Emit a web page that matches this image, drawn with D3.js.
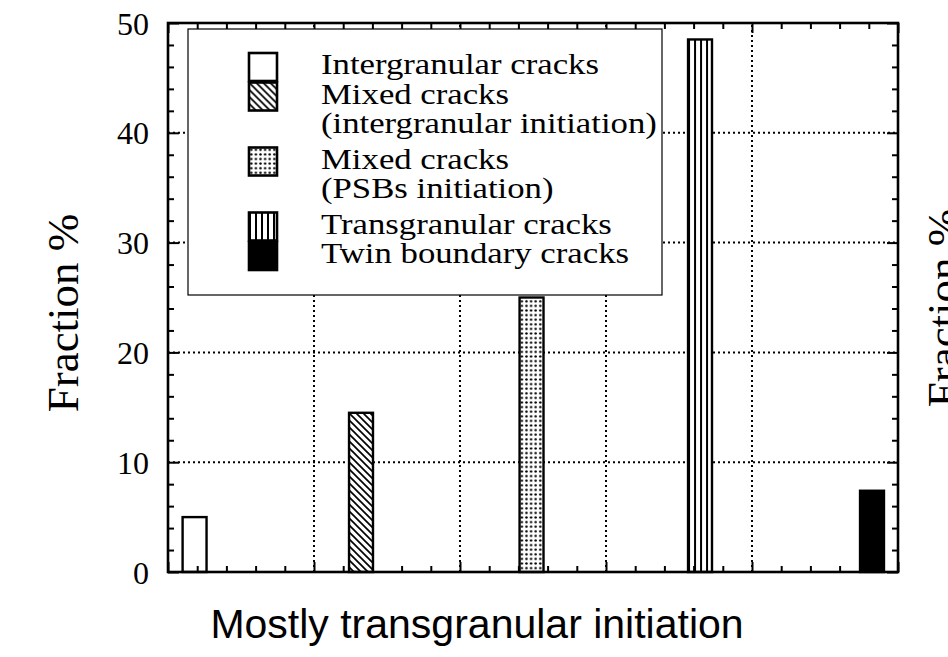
<!DOCTYPE html>
<html>
<head>
<meta charset="utf-8">
<script src="https://cdn.jsdelivr.net/npm/d3@7"></script>
<style>
  body { margin: 0; background: #fff; }
  svg { display: block; }
  .serif { font-family: "Liberation Serif", "Times New Roman", Times, Tinos, "Nimbus Roman", "FreeSerif", "DejaVu Serif", serif; }
  .sans { font-family: "Liberation Sans", Arial, Helvetica, sans-serif; }
</style>
</head>
<body>
<svg id="chart" width="948" height="657"></svg>
<script>
// Crack-type fractions (percent of all cracks)
const categories = [
  "Intergranular cracks",
  "Mixed cracks (intergranular initiation)",
  "Mixed cracks (PSBs initiation)",
  "Transgranular cracks",
  "Twin boundary cracks"
];
const fractions = [5, 14.5, 25, 48.5, 7.4];
const positions = [0.91, 6.61, 12.45, 18.22, 24.11];   // location of each bar on the 0–25 x axis
const legendLines = [
  ["Intergranular cracks"],
  ["Mixed cracks", "(intergranular initiation)"],
  ["Mixed cracks", "(PSBs initiation)"],
  ["Transgranular cracks"],
  ["Twin boundary cracks"]
];
const yTickLabels = [0, 10, 20, 30, 40, 50];
const yTitle = "Fraction %";
const xTitle = "Mostly transgranular initiation";

// Fill style per crack type
const fillKinds = ["blank", "hatch", "dots", "vlines", "solid"];

const svg = d3.select("#chart");
const defs = svg.append("defs");
const plot = { left: 168, right: 898, top: 23, bottom: 572 };
const x = d3.scaleLinear().domain([0, 25]).range([plot.left, plot.right]);
const y = d3.scaleLinear().domain([0, 50]).range([plot.bottom, plot.top]);
const barWidth = 0.82;  // in x-axis units

let patternCount = 0;
function makeFill(kind, x0, y0) {
  if (kind === "blank") return "#fff";
  if (kind === "solid") return "#000";
  const id = "pat" + (patternCount++);
  const p = defs.append("pattern").attr("id", id)
    .attr("patternUnits", "userSpaceOnUse").attr("x", x0).attr("y", y0);
  if (kind === "hatch") {
    const s = 7;
    p.attr("width", s).attr("height", s);
    p.append("rect").attr("width", s).attr("height", s).attr("fill", "#fff");
    p.append("path")
      .attr("d", `M${-s},${-s}L${2 * s},${2 * s}M${-s},0L${s},${2 * s}M0,${-s}L${2 * s},${s}`)
      .attr("stroke", "#000").attr("stroke-width", 1.7);
  } else if (kind === "dots") {
    const s = 4.6;
    p.attr("width", s).attr("height", s);
    p.append("rect").attr("width", s).attr("height", s).attr("fill", "#fff");
    p.append("circle").attr("cx", s / 2).attr("cy", s / 2).attr("r", 1.25).attr("fill", "#000");
  } else if (kind === "vlines") {
    const s = 6;
    p.attr("width", s).attr("height", s);
    p.append("rect").attr("width", s).attr("height", s).attr("fill", "#fff");
    p.append("rect").attr("x", 0).attr("width", 2).attr("height", s).attr("fill", "#000");
  }
  return `url(#${id})`;
}

// Dotted grid
const grid = svg.append("g").attr("stroke", "#000").attr("stroke-width", 2)
  .attr("stroke-dasharray", "2,3").attr("fill", "none");
grid.selectAll("line.v").data([5, 10, 15, 20]).join("line").attr("class", "v")
  .attr("x1", d => x(d)).attr("x2", d => x(d))
  .attr("y1", plot.bottom).attr("y2", plot.top);
grid.selectAll("line.h").data([10, 20, 30, 40]).join("line").attr("class", "h")
  .attr("x1", plot.left).attr("x2", plot.right)
  .attr("y1", d => y(d)).attr("y2", d => y(d));

// Bars
const bw = x(barWidth) - x(0);
svg.append("g").selectAll("rect").data(fractions).join("rect")
  .attr("x", (d, i) => x(positions[i]) - bw / 2)
  .attr("y", d => y(d))
  .attr("width", bw)
  .attr("height", d => y(0) - y(d))
  .attr("fill", (d, i) => makeFill(fillKinds[i], x(positions[i]) - bw / 2, 0))
  .attr("stroke", "#000").attr("stroke-width", 2.4);

// Tick marks on all four sides, pointing inward
function ticks(axisFn, scale, values, size, tx, ty) {
  const g = svg.append("g").attr("transform", `translate(${tx},${ty})`)
    .call(axisFn(scale).tickValues(values).tickSize(-size).tickFormat(""));
  g.select(".domain").remove();
  g.selectAll(".tick line").attr("stroke", "#000").attr("stroke-width", 2);
}
const yMinor = d3.range(0, 51, 2).filter(v => v % 10 !== 0);
const yMajor = d3.range(0, 51, 10);
const xMinor = d3.range(0, 26, 1).filter(v => v % 5 !== 0);
const xMajor = d3.range(0, 26, 5);
ticks(d3.axisLeft, y, yMinor, 6, plot.left, 0);
ticks(d3.axisLeft, y, yMajor, 11, plot.left, 0);
ticks(d3.axisRight, y, yMinor, 6, plot.right, 0);
ticks(d3.axisRight, y, yMajor, 11, plot.right, 0);
ticks(d3.axisBottom, x, xMinor, 6, 0, plot.bottom);
ticks(d3.axisBottom, x, xMajor, 10, 0, plot.bottom);
ticks(d3.axisTop, x, xMinor, 6, 0, plot.top);
ticks(d3.axisTop, x, xMajor, 10, 0, plot.top);

// Frame
svg.append("rect")
  .attr("x", plot.left).attr("y", plot.top)
  .attr("width", plot.right - plot.left).attr("height", plot.bottom - plot.top)
  .attr("fill", "none").attr("stroke", "#000").attr("stroke-width", 2.6);

// Y tick labels
svg.append("g").selectAll("text").data(yTickLabels).join("text")
  .attr("class", "serif")
  .attr("x", 149).attr("y", d => y(d))
  .attr("dy", "0.36em")
  .attr("text-anchor", "end")
  .attr("font-size", 32).attr("fill", "#000")
  .text(d => d);

// Legend
const legend = { x: 188, y: 29, w: 474, h: 266, swX: 249, swW: 28, swH: 28, textX: 321, textW: 278 };
const lg = svg.append("g");
lg.append("rect").attr("x", legend.x).attr("y", legend.y)
  .attr("width", legend.w).attr("height", legend.h)
  .attr("fill", "#fff").attr("stroke", "#000").attr("stroke-width", 1.2);

// horizontal scale chosen so the first entry spans the legend's text column
const legendFont = 29;
const probe = lg.append("text").attr("class", "serif").attr("font-size", legendFont).text(legendLines[0][0]);
const legendStretch = legend.textW / probe.node().getComputedTextLength();
probe.remove();

let baseline = 74;
const lineH = 29.5;
legendLines.forEach((lines, i) => {
  const capTop = baseline - 21;
  lg.append("rect")
    .attr("x", legend.swX).attr("y", capTop)
    .attr("width", legend.swW).attr("height", legend.swH)
    .attr("fill", makeFill(fillKinds[i], legend.swX, capTop))
    .attr("stroke", "#000").attr("stroke-width", 2.6);
  lines.forEach((t, j) => {
    lg.append("text")
      .attr("class", "serif")
      .attr("transform", `translate(${legend.textX},${baseline + j * lineH}) scale(${legendStretch},1)`)
      .attr("font-size", legendFont).attr("fill", "#000")
      .text(t);
  });
  baseline += lines.length * lineH + (lines.length > 1 ? 6 : 0);
});

// Axis titles (the second one belongs to the neighbouring panel, cut by the right edge)
svg.append("text")
  .attr("class", "serif")
  .attr("transform", "translate(78,313) rotate(-90)")
  .attr("text-anchor", "middle")
  .attr("font-size", 45).attr("fill", "#000")
  .text(yTitle);
svg.append("text")
  .attr("class", "serif")
  .attr("transform", "translate(958,308) rotate(-90)")
  .attr("text-anchor", "middle")
  .attr("font-size", 45).attr("fill", "#000")
  .text(yTitle);
svg.append("text")
  .attr("class", "sans")
  .attr("x", 477).attr("y", 638)
  .attr("text-anchor", "middle")
  .attr("font-size", 41).attr("fill", "#000")
  .text(xTitle);
</script>
</body>
</html>
